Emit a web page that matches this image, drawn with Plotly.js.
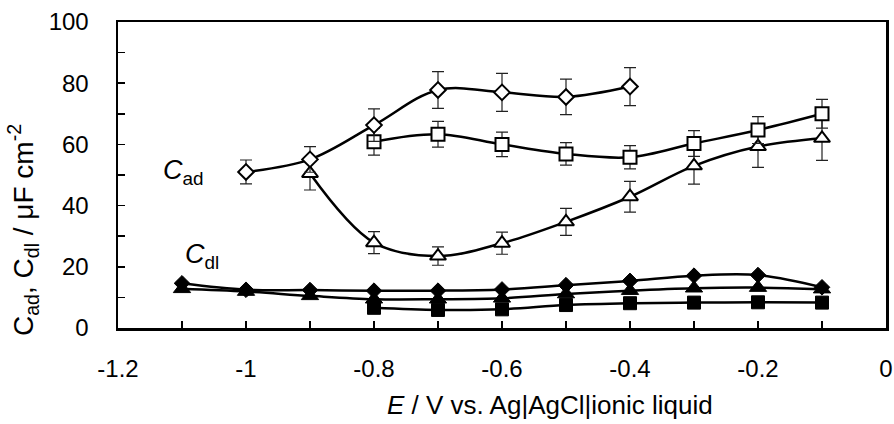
<!DOCTYPE html>
<html>
<head>
<meta charset="utf-8">
<script src="https://cdn.plot.ly/plotly-3.0.1.min.js"></script>
<style>html,body{margin:0;padding:0;background:#fff;}#chart{width:894px;height:424px;}</style>
</head>
<body>
<div id="chart"></div>
<script>
// Open symbols: C_ad
const xDiamondOpen = [-1.0, -0.9, -0.8, -0.7, -0.6, -0.5, -0.4];
const yDiamondOpen = [51.0, 55.1, 66.3, 77.8, 77.0, 75.5, 78.9];
const eDiamondOpen = [3.9, 4.2, 5.3, 6.0, 6.2, 5.8, 6.2];

const xSquareOpen = [-0.8, -0.7, -0.6, -0.5, -0.4, -0.3, -0.2, -0.1];
const ySquareOpen = [60.9, 63.3, 60.0, 56.9, 55.8, 60.3, 64.7, 70.0];
const eSquareOpen = [4.4, 4.2, 4.0, 3.7, 3.8, 4.2, 4.4, 4.7];

const xTriOpen = [-0.9, -0.8, -0.7, -0.6, -0.5, -0.4, -0.3, -0.2, -0.1];
const yTriOpen = [50.5, 27.9, 23.5, 27.7, 34.7, 42.9, 53.0, 59.3, 62.0];
const eTriOpen = [5.4, 3.6, 3.0, 3.6, 4.4, 5.0, 6.0, 6.8, 7.2];

// Filled symbols: C_dl
const xDiamondFill = [-1.1, -1.0, -0.9, -0.8, -0.7, -0.6, -0.5, -0.4, -0.3, -0.2, -0.1];
const yDiamondFill = [14.6, 12.5, 12.4, 12.2, 12.2, 12.6, 14.0, 15.4, 17.1, 17.3, 13.3];

const xTriFill = [-1.1, -1.0, -0.9, -0.8, -0.7, -0.6, -0.5, -0.4, -0.3, -0.2, -0.1];
const yTriFill = [12.8, 11.9, 10.5, 9.4, 9.4, 9.7, 11.1, 12.2, 13.0, 13.2, 12.7];

const xSquareFill = [-0.8, -0.7, -0.6, -0.5, -0.4, -0.3, -0.2, -0.1];
const ySquareFill = [6.6, 5.9, 6.1, 7.5, 8.1, 8.3, 8.4, 8.3];

const xTickVals = [-1.2, -1.0, -0.8, -0.6, -0.4, -0.2, 0];
const xTickText = ['-1.2', '-1', '-0.8', '-0.6', '-0.4', '-0.2', '0'];
const yTickVals = [0, 20, 40, 60, 80, 100];
const yTickText = ['0', '20', '40', '60', '80', '100'];

const FONT = 'Liberation Sans, Arial, sans-serif';
const lineStyle = {color: '#000', width: 2.5, shape: 'spline', smoothing: 1};

function errBar(arr) {
  return {type: 'data', array: arr, visible: true, color: '#222', thickness: 1.2, width: 6};
}
function openTrace(x, y, e, symbol, size) {
  return {
    x: x, y: y, type: 'scatter', mode: 'lines+markers', line: lineStyle,
    marker: {symbol: symbol, size: size, color: '#fff', line: {color: '#000', width: 2}},
    error_y: errBar(e), showlegend: false, hoverinfo: 'skip'
  };
}
function fillTrace(x, y, symbol, size) {
  return {
    x: x, y: y, type: 'scatter', mode: 'lines+markers', line: lineStyle,
    marker: {symbol: symbol, size: size, color: '#000', line: {color: '#000', width: 1}},
    showlegend: false, hoverinfo: 'skip'
  };
}

const data = [
  fillTrace(xSquareFill, ySquareFill, 'square', 13),
  fillTrace(xTriFill, yTriFill, 'triangle-up', 15),
  fillTrace(xDiamondFill, yDiamondFill, 'diamond', 12),
  openTrace(xTriOpen, yTriOpen, eTriOpen, 'triangle-up', 14),
  openTrace(xSquareOpen, ySquareOpen, eSquareOpen, 'square', 13),
  openTrace(xDiamondOpen, yDiamondOpen, eDiamondOpen, 'diamond', 12)
];

const axisCommon = {
  showline: true, linecolor: '#000', linewidth: 2.5, mirror: true,
  showgrid: false, zeroline: false, ticks: 'inside', ticklen: 7, tickwidth: 1.5, tickcolor: '#000',
  tickfont: {family: FONT, size: 24, color: '#000'}
};

const layout = {
  width: 894, height: 424,
  margin: {l: 118, r: 8, t: 22, b: 96, pad: 0},
  paper_bgcolor: '#fff', plot_bgcolor: '#fff',
  font: {family: FONT, color: '#000'},
  xaxis: Object.assign({}, axisCommon, {
    range: [-1.2, 0], tickmode: 'array', tickvals: xTickVals, ticktext: xTickText,
    ticklabelstandoff: 18,
    minor: {dtick: 0.1, tick0: 0, ticks: 'inside', ticklen: 7, tickwidth: 1.5, tickcolor: '#000'}
  }),
  yaxis: Object.assign({}, axisCommon, {
    range: [0, 100], tickmode: 'array', tickvals: yTickVals, ticktext: yTickText,
    ticklabelstandoff: 22,
    minor: {dtick: 10, tick0: 0, ticks: 'inside', ticklen: 7, tickwidth: 1.5, tickcolor: '#000'}
  }),
  annotations: [
    {text: '<i>E</i> / V vs. Ag|AgCl|ionic liquid', xref: 'paper', yref: 'paper',
     x: 0.5625, y: -0.25, xanchor: 'center', yanchor: 'middle', showarrow: false,
     font: {family: FONT, size: 26, color: '#000'}},
    {text: 'C<sub>ad</sub>, C<sub>dl</sub> / μF cm<sup>-2</sup>', xref: 'paper', yref: 'paper',
     x: -0.1237, y: 0.32, xanchor: 'center', yanchor: 'middle', textangle: -90, showarrow: false,
     font: {family: FONT, size: 28, color: '#000'}},
    {text: '<i>C</i><sub>ad</sub>', xref: 'paper', yref: 'paper',
     x: 0.0555, y: 0.51, xanchor: 'left', yanchor: 'middle', showarrow: false,
     font: {family: FONT, size: 27, color: '#000'}},
    {text: '<i>C</i><sub>dl</sub>', xref: 'paper', yref: 'paper',
     x: 0.085, y: 0.235, xanchor: 'left', yanchor: 'middle', showarrow: false,
     font: {family: FONT, size: 27, color: '#000'}}
  ]
};

Plotly.newPlot('chart', data, layout, {staticPlot: true, displayModeBar: false});
</script>
</body>
</html>
